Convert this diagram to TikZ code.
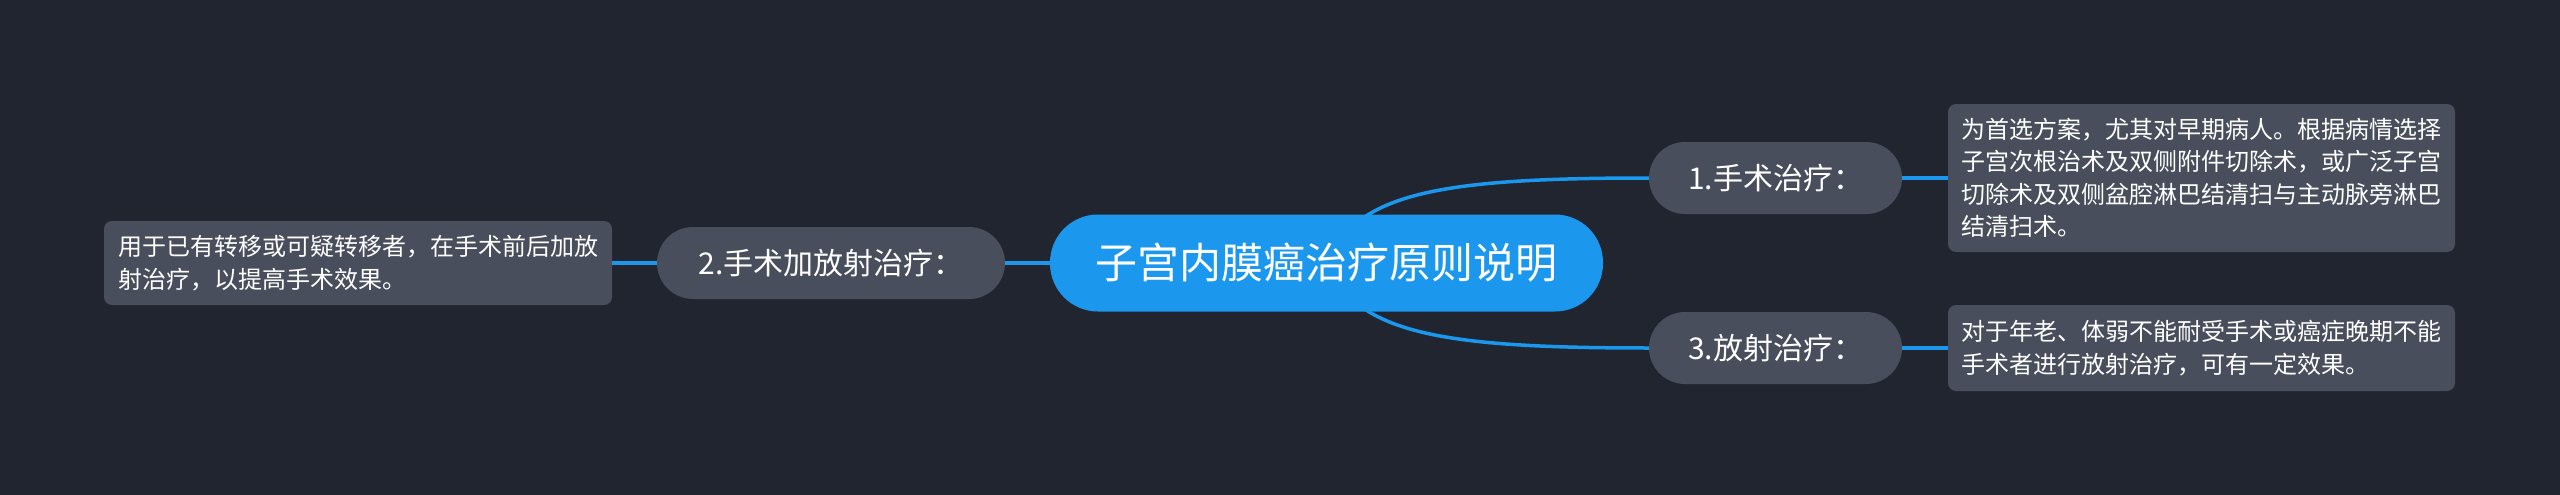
\documentclass[tikz,border=0pt]{standalone}
\usepackage{fontspec}
\newfontfamily\cjk{Noto Sans CJK SC}
\usepackage{tikz}
\usetikzlibrary{backgrounds}
\definecolor{sfondo}{HTML}{21252F}
\definecolor{blu}{HTML}{1B98EE}
\definecolor{grigio}{HTML}{484E5C}

\begin{document}
\begin{tikzpicture}[x=1pt,y=-1pt,
	radice/.style={fill=blu,text=white,rounded corners=48pt,minimum width=553pt,minimum height=97pt,inner sep=0pt,font=\cjk\fontsize{42pt}{50pt}\selectfont},
	ramo/.style={fill=grigio,text=white,rounded corners=36pt,minimum height=72pt,inner sep=0pt,font=\cjk\fontsize{30pt}{36pt}\selectfont},
	nota/.style={fill=grigio,text=white,rounded corners=8pt,minimum width=507pt,inner sep=0pt,align=left,font=\cjk\fontsize{24pt}{32.5pt}\selectfont},
	filo/.style={draw=blu,line width=3.5pt}]
	\useasboundingbox (0,0) rectangle (2560,495);
	\node [radice] (centro) at (1326.5,263) {子宫内膜癌治疗原则说明};
	\node [ramo,minimum width=253pt] (chir) at (1775.5,178) {1.手术治疗：};
	\node [ramo,minimum width=253pt] (radio) at (1775.5,348) {3.放射治疗：};
	\node [ramo,minimum width=348pt] (misto) at (831,263) {2.手术加放射治疗：};
	\node [nota,minimum height=148pt] (notachir) at (2201.5,178) {为首选方案，尤其对早期病人。根据病情选择\\子宫次根治术及双侧附件切除术，或广泛子宫\\切除术及双侧盆腔淋巴结清扫与主动脉旁淋巴\\结清扫术。};
	\node [nota,minimum height=86pt] (notaradio) at (2201.5,348) {对于年老、体弱不能耐受手术或癌症晚期不能\\手术者进行放射治疗，可有一定效果。};
	\node [nota,minimum width=508pt,minimum height=84pt] (notamisto) at (358,263) {用于已有转移或可疑转移者，在手术前后加放\\射治疗，以提高手术效果。};
	\draw [filo] (centro.west) -- (misto.east);
	\draw [filo] (misto.west) -- (notamisto.east);
	\draw [filo] (chir.east) -- (notachir.west);
	\draw [filo] (radio.east) -- (notaradio.west);
	\begin{scope}[on background layer]
		\fill [sfondo] (0,0) rectangle (2560,495);
		\draw [filo] (centro.center) .. controls +(30,-70) and +(-210,0) .. (chir.west);
		\draw [filo] (centro.center) .. controls +(30,70) and +(-210,0) .. (radio.west);
	\end{scope}
\end{tikzpicture}
\end{document}
